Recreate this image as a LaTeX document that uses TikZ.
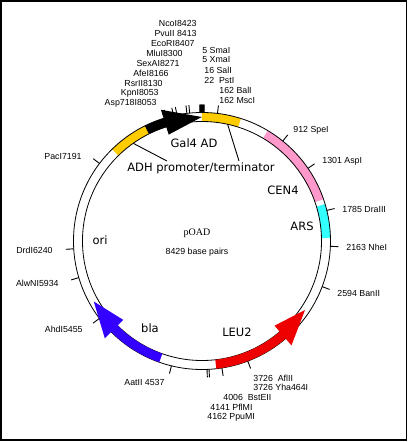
\documentclass[tikz,border=0pt]{standalone}
\usepackage{fontspec}
\setmainfont{Liberation Sans}
\newfontfamily\mapfont{DejaVu Sans}
\newfontfamily\namefont{Liberation Serif}
\usetikzlibrary{
  calc % For coordinate calculations
}

\definecolor{adhyellow}{HTML}{FFCC00}
\definecolor{cenpink}{HTML}{FF99CC}
\definecolor{arscyan}{HTML}{33FFFF}
\definecolor{leured}{HTML}{EE0000}
\definecolor{blablue}{HTML}{3300FF}

% Winkel einer Position (0 oben, im Uhrzeigersinn), 8429 bp
\newcommand{\bpang}[1]{90-#1/8429*360}

% Ring-Abschnitt: Start, Ende, Farbe
\newcommand{\band}[3]{%
  \fill[#3] ({\bpang{#1}}:\rin pt) arc[start angle={\bpang{#1}}, end angle={\bpang{#2}}, radius=\rin pt]
    -- ({\bpang{#2}}:\rout pt) arc[start angle={\bpang{#2}}, end angle={\bpang{#1}}, radius=\rout pt] -- cycle;}

% Gen-Pfeil: Ende, Spitzenbasis, Spitze, Farbe
\newcommand{\genearrow}[4]{%
  \fill[#4] ({\bpang{#1}}:\rin pt) arc[start angle={\bpang{#1}}, end angle={\bpang{#2}}, radius=\rin pt]
    -- ({\bpang{#2}}:\rhin pt) -- ({\bpang{#3}}:\rmid pt) -- ({\bpang{#2}}:\rhout pt)
    -- ({\bpang{#2}}:\rout pt) arc[start angle={\bpang{#2}}, end angle={\bpang{#1}}, radius=\rout pt] -- cycle;}

\begin{document}
\begin{tikzpicture}[
      x=1pt, y=1pt,
      line width=0.8pt, % Default line thickness
      site/.style={font=\fontsize{8.8}{9}\selectfont, inner sep=0pt}, % Schnittstellen
      feat/.style={font=\mapfont\fontsize{11.5}{12}\selectfont, inner sep=1pt}, % Elemente
      tick/.style={line width=0.9pt}, % Striche am Ring
    ]

    \def\rin{119.5}
    \def\rout{128.5}
    \def\rtick{136.5}
    \def\rmid{124}
    \def\rhin{111.5}
    \def\rhout{137.5}

    % Rahmen
    \useasboundingbox (-202,-201) rectangle (206,241);
    \draw[line width=1.2pt] (-201,-199) rectangle (204.5,240);

    % Abschnitte
    \band{7390}{7811}{adhyellow}
    \band{0}{413}{adhyellow}
    \band{720}{1663}{cenpink}
    \band{1716}{2075}{arscyan}

    % Ring
    \draw (0,0) circle[radius=\rout pt];
    \draw (0,0) circle[radius=\rin pt];

    % Gene
    \genearrow{7811}{8022}{8427}{black}
    \genearrow{4065}{3264}{2899}{leured}
    \genearrow{4669}{5268}{5638}{blablue}

    % Schnittstellen
    \foreach \p in {8053,8130,8166,8271,8300,8407,8413,8423,5,16,22,162,
                    912,1301,1785,2163,2594,3726,4006,4141,4162,4537,
                    5455,5934,6240,7191}
      \draw[tick] ({\bpang{\p}}:\rout pt) -- ({\bpang{\p}}:\rtick pt);
    % Block der Stellen um 0
    \fill ({\bpang{8407}}:\rout pt) -- ({\bpang{8407}}:\rtick pt)
      -- ({\bpang{22}}:\rtick pt) -- ({\bpang{22}}:\rout pt) -- cycle;

    % oben links
    \node[site, anchor=east] (nco) at (-5,218) {NcoI8423};
    \node[site, anchor=east] (pvu) at (-5,208) {PvuII 8413};
    \node[site, anchor=east] (eco) at (-7,198) {EcoRI8407};
    \node[site, anchor=east] (mlu) at (-19,188) {MluI8300};
    \node[site, anchor=east] (sex) at (-22,178) {SexAI8271};
    \node[site, anchor=east] (afe) at (-33,168) {AfeI8166};
    \node[site, anchor=east] (rsr) at (-39,158) {RsrII8130};
    \node[site, anchor=east] (kpn) at (-43,148) {KpnI8053};
    \node[site, anchor=east] (asp718) at (-45,138) {Asp718I8053};
    % oben rechts
    \node[site, anchor=west] (sma) at (0,191) {5 SmaI};
    \node[site, anchor=west] (xma) at (0,181) {5 XmaI};
    \node[site, anchor=west] (sal) at (2,171) {16 SalI};
    \node[site, anchor=west] (pst) at (2,161) {22\ \ PstI};
    \node[site, anchor=west] (bal) at (17,151) {162 BalI};
    \node[site, anchor=west] (msc) at (17,141) {162 MscI};
    % rechts
    \node[site, anchor=west] (spe) at (91,111) {912 SpeI};
    \node[site, anchor=west] (asp) at (120,80) {1301 AspI};
    \node[site, anchor=west] (dra) at (140,32) {1785 DraIII};
    \node[site, anchor=west] (nhe) at (144,-6) {2163 NheI};
    \node[site, anchor=west] (ban) at (135,-52) {2594 BanII};
    % unten
    \node[site, anchor=west] (afl) at (51,-137) {3726\ \ AflII};
    \node[site, anchor=west] (vha) at (51,-146) {3726 Yha464I};
    \node[site, anchor=west] (bst) at (21,-156) {4006\ \ BstEII};
    \node[site, anchor=west] (pfl) at (8,-166) {4141 PflMI};
    \node[site, anchor=west] (ppu) at (5,-176) {4162 PpuMI};
    \node[site, anchor=west] (aat) at (-78,-141) {AatII 4537};
    % links
    \node[site, anchor=east] (ahd) at (-119,-88) {AhdI5455};
    \node[site, anchor=east] (alw) at (-143,-42) {AlwNI5934};
    \node[site, anchor=east] (drd) at (-149,-9) {DrdI6240};
    \node[site, anchor=east] (pac) at (-120,85) {PacI7191};

    % Elemente
    \node[feat] (gal) at (-8,98) {Gal4 AD};
    \node[feat] (adh) at (-1,73) {ADH promoter/terminator};
    \node[feat] (cen) at (81,51) {CEN4};
    \node[feat] (ars) at (100,15) {ARS};
    \node[feat] (ori) at (-102,1) {ori};
    \node[feat] (bla) at (-52,-87) {bla};
    \node[feat] (leu) at (35,-91) {LEU2};

    % Linien zum ADH-Label
    \draw[tick] ({\bpang{7606}}:\rin pt) -- ([xshift=-34pt]adh.north);
    \draw[tick] ({\bpang{290}}:\rin pt) -- ([xshift=38pt]adh.north);

    % Mitte
    \node[font=\namefont\fontsize{10}{11}\selectfont] (name) at (-5,8) {pOAD};
    \node[site] (size) at (-5,-11) {8429 base pairs};

  \end{tikzpicture}
\end{document}
